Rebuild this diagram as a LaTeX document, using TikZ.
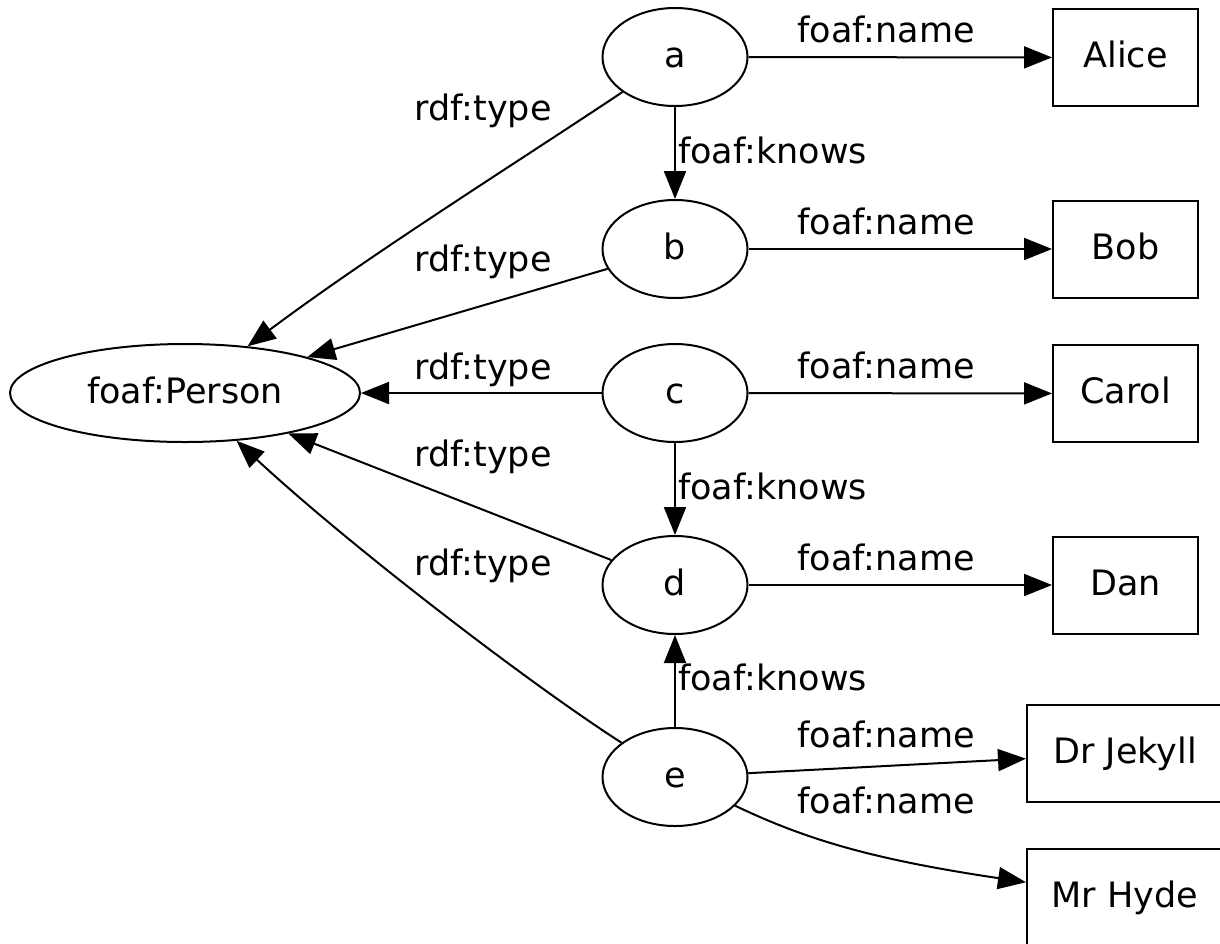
\documentclass[tikz,border=0pt]{standalone}
\usepackage{fontspec}
\setmainfont{DejaVu Sans}
\usetikzlibrary{arrows.meta,shapes.geometric}
\begin{document}
\begin{tikzpicture}[x=1pt,y=-1pt,
  every node/.style={font=\fontsize{35}{42}\selectfont},
  res/.style={draw, ellipse, line width=2pt, inner sep=0pt, minimum width=145pt, minimum height=98pt, text height=26pt, text depth=6pt},
  lit/.style={draw, rectangle, line width=2pt, inner sep=0pt, minimum width=145pt, minimum height=97pt, text height=26pt, text depth=6pt},
  lbl/.style={inner sep=0pt, anchor=base},
  conn/.style={line width=2pt, -{Triangle[length=28pt,width=22pt]}},
]
\fill[white] (0,0) rectangle (1220,943);
\useasboundingbox (0,0) rectangle (1220,943);
\clip (0,0) rectangle (1220,943);

% resource nodes
\node[res, minimum width=350pt] (P) at (185,393) {foaf:Person};
\node[res] (a) at (675,57) {a};
\node[res] (b) at (675,249) {b};
\node[res] (c) at (675,393) {c};
\node[res] (d) at (675,585) {d};
\node[res] (e) at (675,777) {e};

% literal nodes
\node[lit] (alice) at (1125.5,57.5) {Alice};
\node[lit] (bob) at (1125.5,249) {Bob};
\node[lit] (carol) at (1125.5,393.5) {Carol};
\node[lit] (dan) at (1125.5,585) {Dan};
\node[lit, minimum width=196pt] (jekyll) at (1125,753.5) {Dr Jekyll};
\node[lit, minimum width=196pt] (hyde) at (1125,897) {Mr Hyde};

% name edges
\draw[conn] (a) -- (alice);
\draw[conn] (b) -- (bob);
\draw[conn] (c) -- (carol);
\draw[conn] (d) -- (dan);
\draw[conn] (e) -- (jekyll);
\draw[conn] (e) .. controls (809,841) and (877,860) .. (hyde);

% knows edges
\draw[conn] (a) -- (b);
\draw[conn] (c) -- (d);
\draw[conn] (e) -- (d);

% type edges
\draw[conn] (a) .. controls (513,165) and (374,252) .. (P);
\draw[conn] (b) -- (P);
\draw[conn] (c) -- (P);
\draw[conn] (d) -- (P);
\draw[conn] (e) .. controls (530,684) and (350,546) .. (P);

% labels
\node[lbl] (t1) at (483,120) {rdf:type};
\node[lbl] (t2) at (483,271) {rdf:type};
\node[lbl] (t3) at (483,379) {rdf:type};
\node[lbl] (t4) at (483,466) {rdf:type};
\node[lbl] (t5) at (483,575) {rdf:type};

\node[lbl] (n1) at (886,42) {foaf:name};
\node[lbl] (n2) at (886,234) {foaf:name};
\node[lbl] (n3) at (886,378) {foaf:name};
\node[lbl] (n4) at (886,570) {foaf:name};
\node[lbl] (n5) at (886,747) {foaf:name};
\node[lbl] (n6) at (886,813) {foaf:name};

\node[lbl, anchor=base west] (k1) at (678,163) {foaf:knows};
\node[lbl, anchor=base west] (k2) at (678,499) {foaf:knows};
\node[lbl, anchor=base west] (k3) at (678,690) {foaf:knows};
\end{tikzpicture}
\end{document}
